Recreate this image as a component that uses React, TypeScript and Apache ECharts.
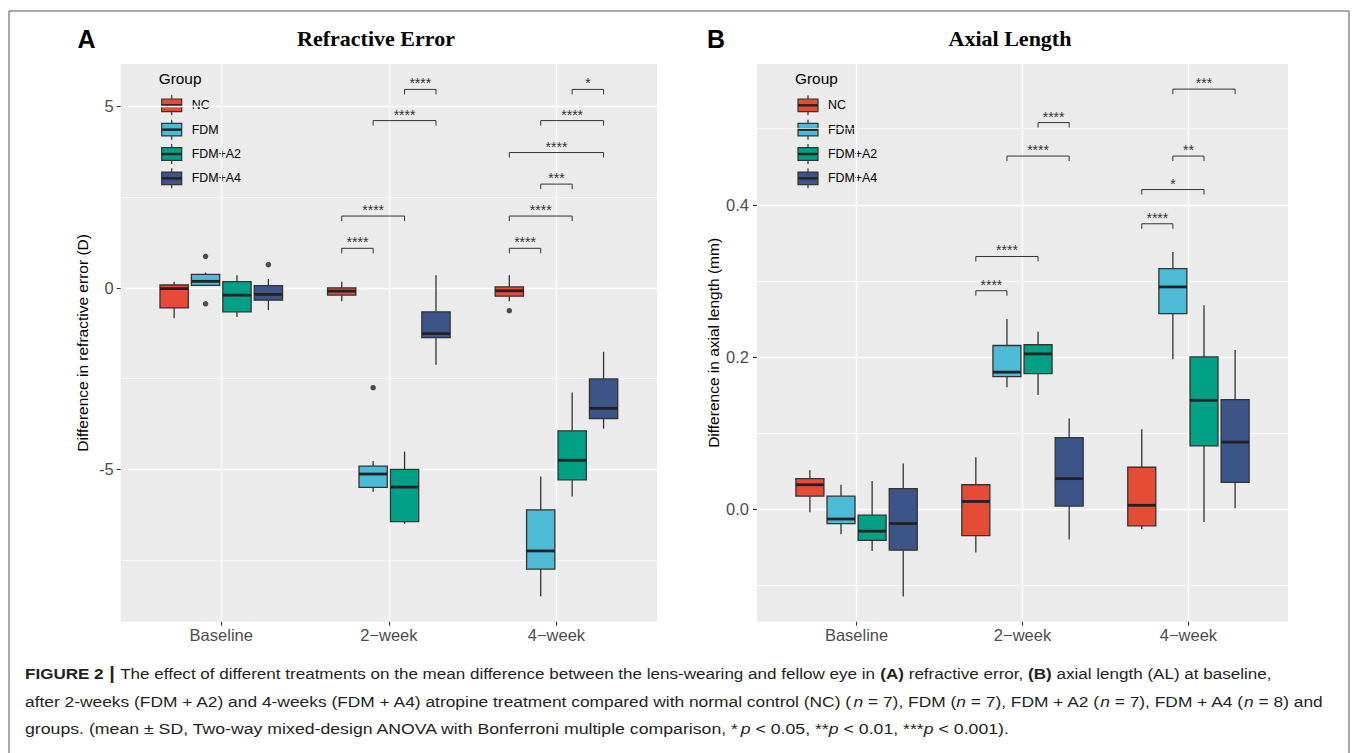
import React, { useEffect, useRef } from 'react';
import * as echarts from 'echarts';

// ---------- data ----------
const categories = ['Baseline', '2−week', '4−week'];
const groups = ['NC', 'FDM', 'FDM+A2', 'FDM+A4'];
const groupColors = ['#E64B35', '#4DBBD5', '#00A087', '#3C5488'];

// Refractive error (D): [min, Q1, median, Q3, max] per category
const refNC = [[-0.84, -0.55, -0.02, 0.08, 0.17], [-0.37, -0.2, -0.09, 0.0, 0.17], [-0.37, -0.23, -0.08, 0.03, 0.35]];
const refFDM = [[0.05, 0.07, 0.18, 0.37, 0.42], [-5.62, -5.5, -5.13, -4.91, -4.77], [-8.5, -7.75, -7.25, -6.12, -5.2]];
const refA2 = [[-0.8, -0.66, -0.2, 0.17, 0.35], [-6.5, -6.44, -5.49, -5.0, -4.51], [-5.75, -5.29, -4.75, -3.94, -2.88]];
const refA4 = [[-0.61, -0.34, -0.18, 0.06, 0.24], [-2.12, -1.37, -1.26, -0.66, 0.35], [-3.88, -3.6, -3.32, -2.51, -1.76]];
const refOutNC = [[], [], [-0.63]];
const refOutFDM = [[0.87, -0.44], [-2.75], []];
const refOutA2 = [[], [], []];
const refOutA4 = [[0.64], [], []];
// [categoryIndex, fromGroup, toGroup, y, label]
const refBrackets = [
  [1, 0, 1, 1.09, '****'], [1, 0, 2, 1.98, '****'], [1, 1, 3, 4.61, '****'], [1, 2, 3, 5.47, '****'],
  [2, 0, 1, 1.09, '****'], [2, 0, 2, 1.98, '****'], [2, 1, 2, 2.86, '***'], [2, 0, 3, 3.73, '****'],
  [2, 1, 3, 4.61, '****'], [2, 2, 3, 5.47, '*'],
];
const refYTicks = [-5, 0, 5];
const refYMinor = [-7.5, -2.5, 2.5];
const refYRange = [-9.2, 6.17];

// Axial length (mm)
const alNC = [[-0.004, 0.017, 0.032, 0.04, 0.051], [-0.057, -0.035, 0.01, 0.032, 0.068], [-0.026, -0.022, 0.005, 0.055, 0.105]];
const alFDM = [[-0.033, -0.019, -0.013, 0.017, 0.032], [0.16, 0.174, 0.18, 0.215, 0.25], [0.197, 0.257, 0.292, 0.316, 0.338]];
const alA2 = [[-0.055, -0.041, -0.029, -0.008, 0.037], [0.15, 0.178, 0.204, 0.216, 0.233], [-0.017, 0.083, 0.143, 0.2, 0.268]];
const alA4 = [[-0.115, -0.054, -0.019, 0.027, 0.06], [-0.04, 0.004, 0.04, 0.094, 0.119], [0.001, 0.035, 0.088, 0.144, 0.209]];
const alBrackets = [
  [1, 0, 1, 0.287, '****'], [1, 0, 2, 0.332, '****'], [1, 1, 3, 0.464, '****'], [1, 2, 3, 0.508, '****'],
  [2, 0, 1, 0.375, '****'], [2, 0, 2, 0.42, '*'], [2, 1, 2, 0.464, '**'], [2, 1, 3, 0.552, '***'],
];
const alYTicks = [0, 0.2, 0.4];
const alYMinor = [-0.1, 0.1, 0.3, 0.5];
const alYRange = [-0.148, 0.585];

const captionLines = [
  '{b|FIGURE 2}{bar| | }The effect of different treatments on the mean difference between the lens-wearing and fellow eye in {b|(A)} refractive error, {b|(B)} axial length (AL) at baseline,',
  'after 2-weeks (FDM + A2) and 4-weeks (FDM + A4) atropine treatment compared with normal control (NC) ({i|n} = 7), FDM ({i|n} = 7), FDM + A2 ({i|n} = 7), FDM + A4 ({i|n} = 8) and',
  'groups. (mean ± SD, Two-way mixed-design ANOVA with Bonferroni multiple comparison, *{i|p} < 0.05, **{i|p} < 0.01, ***{i|p} < 0.001).',
];

// ---------- layout ----------
const SANS = 'Liberation Sans';
const SERIF = 'Liberation Serif';
const DODGE = [-0.28125, -0.09375, 0.09375, 0.28125];
const BOX_W = 0.16875;
const GRID_A = { left: 120.7, top: 64, width: 536.3, height: 557.7 };
const GRID_B = { left: 757, top: 64, width: 531, height: 557.7 };
const CAPTION_Y = [673, 701, 729];
const CAPTION_SCALE = [1.1, 1.121, 1.142];

function boxSeries(panel: number, stats: number[][], gi: number) {
  return {
    type: 'custom',
    xAxisIndex: panel,
    yAxisIndex: panel * 2,
    z: 3,
    data: stats.map((s, ci) => [ci + 1 + DODGE[gi], ...s]),
    encode: { x: 0, y: [1, 2, 3, 4, 5] },
    renderItem: (params: any, api: any) => {
      const x = api.value(0);
      const pMin = api.coord([x, api.value(1)]);
      const pQ1 = api.coord([x, api.value(2)]);
      const pMd = api.coord([x, api.value(3)]);
      const pQ3 = api.coord([x, api.value(4)]);
      const pMax = api.coord([x, api.value(5)]);
      const hw = api.size([BOX_W, 0])[0] / 2;
      const cx = pMd[0];
      return {
        type: 'group',
        children: [
          { type: 'line', shape: { x1: cx, y1: pMax[1], x2: cx, y2: pQ3[1] }, style: { stroke: '#333333', lineWidth: 1.3 } },
          { type: 'line', shape: { x1: cx, y1: pQ1[1], x2: cx, y2: pMin[1] }, style: { stroke: '#333333', lineWidth: 1.3 } },
          {
            type: 'rect',
            shape: { x: cx - hw, y: pQ3[1], width: 2 * hw, height: pQ1[1] - pQ3[1] },
            style: { fill: groupColors[gi], stroke: '#333333', lineWidth: 1.3 },
          },
          { type: 'line', shape: { x1: cx - hw, y1: pMd[1], x2: cx + hw, y2: pMd[1] }, style: { stroke: '#222222', lineWidth: 2.8 } },
        ],
      };
    },
  };
}

function outlierSeries(panel: number, outs: number[][][]) {
  const data: number[][] = [];
  outs.forEach((perGroup, gi) => {
    perGroup.forEach((vals, ci) => {
      vals.forEach((v) => data.push([ci + 1 + DODGE[gi], v]));
    });
  });
  return {
    type: 'scatter',
    xAxisIndex: panel,
    yAxisIndex: panel * 2,
    z: 4,
    symbolSize: 5.5,
    itemStyle: { color: '#222222' },
    data,
  };
}

function bracketSeries(panel: number, brackets: any[]) {
  const labels = brackets.map((b) => b[4]);
  return {
    type: 'custom',
    xAxisIndex: panel,
    yAxisIndex: panel * 2,
    z: 5,
    data: brackets.map((b) => [b[0] + 1 + DODGE[b[1]], b[0] + 1 + DODGE[b[2]], b[3]]),
    encode: { x: [0, 1], y: 2 },
    renderItem: (params: any, api: any) => {
      const p1 = api.coord([api.value(0), api.value(2)]);
      const p2 = api.coord([api.value(1), api.value(2)]);
      const t = 5;
      const st = { stroke: '#333333', lineWidth: 1 };
      return {
        type: 'group',
        children: [
          { type: 'line', shape: { x1: p1[0], y1: p1[1], x2: p2[0], y2: p2[1] }, style: st },
          { type: 'line', shape: { x1: p1[0], y1: p1[1], x2: p1[0], y2: p1[1] + t }, style: st },
          { type: 'line', shape: { x1: p2[0], y1: p2[1], x2: p2[0], y2: p2[1] + t }, style: st },
          {
            type: 'text',
            x: (p1[0] + p2[0]) / 2,
            y: p1[1] - 6,
            style: {
              text: labels[params.dataIndex],
              fontSize: 14,
              fontFamily: SANS,
              fill: '#333333',
              align: 'center',
              verticalAlign: 'middle',
            },
          },
        ],
      };
    },
  };
}

function legendGraphics(plotLeft: number) {
  const els: any[] = [
    {
      type: 'text', x: plotLeft + 38, y: 78.5,
      style: { text: 'Group', fontSize: 15.4, fontFamily: SANS, fill: '#000', verticalAlign: 'middle' },
    },
  ];
  groups.forEach((g, i) => {
    const cy = 105.3 + i * 24.35;
    const kx = plotLeft + 41;
    els.push({ type: 'line', shape: { x1: kx + 10, y1: cy - 10, x2: kx + 10, y2: cy + 10 }, style: { stroke: '#333', lineWidth: 1.2 } });
    els.push({ type: 'rect', shape: { x: kx, y: cy - 6.3, width: 20, height: 12.6 }, style: { fill: groupColors[i], stroke: '#333', lineWidth: 1.2 } });
    els.push({ type: 'line', shape: { x1: kx, y1: cy, x2: kx + 20, y2: cy }, style: { stroke: '#222', lineWidth: 2.4 } });
    els.push({
      type: 'text', x: plotLeft + 71, y: cy,
      style: { text: g, fontSize: 12.4, fontFamily: SANS, fill: '#000', verticalAlign: 'middle' },
    });
  });
  return els;
}

function xAxis(gridIndex: number) {
  return {
    type: 'value',
    gridIndex,
    min: 0.4,
    max: 3.6,
    position: 'bottom',
    axisLine: { show: false, onZero: false },
    axisTick: { show: true, customValues: [1, 2, 3], length: 4, lineStyle: { color: '#333', width: 1 } },
    axisLabel: {
      customValues: [1, 2, 3],
      formatter: (v: number) => categories[Math.round(v) - 1] || '',
      color: '#4D4D4D',
      fontSize: 16.5,
      fontFamily: SANS,
      margin: 5,
    },
    splitLine: { show: true, lineStyle: { color: '#FFFFFF', width: 1.3 } },
  };
}

function yAxes(gridIndex: number, range: number[], ticks: number[], minor: number[], fmt: (v: number) => string, margin: number) {
  return [
    {
      type: 'value',
      gridIndex,
      position: 'left',
      min: range[0],
      max: range[1],
      axisLine: { show: false, onZero: false },
      axisTick: { show: true, customValues: ticks, length: 4, lineStyle: { color: '#333', width: 1 } },
      axisLabel: { customValues: ticks, formatter: fmt, color: '#4D4D4D', fontSize: 16.5, fontFamily: SANS, margin },
      splitLine: { show: true, lineStyle: { color: '#FFFFFF', width: 1.3 } },
    },
    {
      type: 'value',
      gridIndex,
      position: 'left',
      min: range[0],
      max: range[1],
      axisLine: { show: false, onZero: false },
      axisTick: { show: false, customValues: minor },
      axisLabel: { show: false, customValues: minor },
      splitLine: { show: true, lineStyle: { color: '#FFFFFF', width: 0.7 } },
    },
  ];
}

export default function App() {
  const ref = useRef<HTMLDivElement>(null);
  useEffect(() => {
    if (!ref.current) return;
    const chart = echarts.init(ref.current, undefined, { renderer: 'svg' });
    const capRich = {
      b: { fontWeight: 'bold', fontSize: 15.5, fontFamily: SANS, fill: '#231F20' },
      bar: { fontWeight: 'bold', fontSize: 18, fontFamily: SANS, fill: '#231F20' },
      i: { fontStyle: 'italic', fontSize: 15.5, fontFamily: SANS, fill: '#231F20' },
    };
    const option: any = {
      animation: false,
      backgroundColor: '#FFFFFF',
      grid: [
        { ...GRID_A, show: true, backgroundColor: '#EBEBEB', borderWidth: 0, containLabel: false },
        { ...GRID_B, show: true, backgroundColor: '#EBEBEB', borderWidth: 0, containLabel: false },
      ],
      xAxis: [xAxis(0), xAxis(1)],
      yAxis: [
        ...yAxes(0, refYRange, refYTicks, refYMinor, (v: number) => (v < 0 ? '-' + Math.abs(v) : String(v)), 7),
        ...yAxes(1, alYRange, alYTicks, alYMinor, (v: number) => v.toFixed(1), 8),
      ],
      series: [
        boxSeries(0, refNC, 0), boxSeries(0, refFDM, 1), boxSeries(0, refA2, 2), boxSeries(0, refA4, 3),
        outlierSeries(0, [refOutNC, refOutFDM, refOutA2, refOutA4]),
        bracketSeries(0, refBrackets),
        boxSeries(1, alNC, 0), boxSeries(1, alFDM, 1), boxSeries(1, alA2, 2), boxSeries(1, alA4, 3),
        bracketSeries(1, alBrackets),
      ],
      graphic: [
        // frame
        { type: 'line', shape: { x1: 9, y1: 11, x2: 1349, y2: 11 }, style: { stroke: '#555', lineWidth: 1 } },
        { type: 'line', shape: { x1: 9, y1: 11, x2: 9, y2: 753 }, style: { stroke: '#555', lineWidth: 1 } },
        { type: 'line', shape: { x1: 1349, y1: 11, x2: 1349, y2: 753 }, style: { stroke: '#555', lineWidth: 1 } },
        // panel letters & titles
        { type: 'text', x: 86.5, y: 39, style: { text: 'A', fontSize: 25, fontWeight: 'bold', fontFamily: SANS, fill: '#000', align: 'center', verticalAlign: 'middle' } },
        { type: 'text', x: 716, y: 39, style: { text: 'B', fontSize: 25, fontWeight: 'bold', fontFamily: SANS, fill: '#000', align: 'center', verticalAlign: 'middle' } },
        { type: 'text', x: 376, y: 38, style: { text: 'Refractive Error', fontSize: 22, fontWeight: 'bold', fontFamily: SERIF, fill: '#000', align: 'center', verticalAlign: 'middle' } },
        { type: 'text', x: 1010, y: 38, style: { text: 'Axial Length', fontSize: 22, fontWeight: 'bold', fontFamily: SERIF, fill: '#000', align: 'center', verticalAlign: 'middle' } },
        // axis titles
        { type: 'text', x: 82, y: 342.9, rotation: Math.PI / 2, style: { text: 'Difference in refractive error (D)', fontSize: 15.5, fontFamily: SANS, fill: '#000', align: 'center', verticalAlign: 'middle' } },
        { type: 'text', x: 713, y: 342.9, rotation: Math.PI / 2, style: { text: 'Difference in axial length (mm)', fontSize: 15.5, fontFamily: SANS, fill: '#000', align: 'center', verticalAlign: 'middle' } },
        // legends
        ...legendGraphics(GRID_A.left),
        ...legendGraphics(GRID_B.left),
        // caption
        ...captionLines.map((t, i) => ({
          type: 'text', x: 25, y: CAPTION_Y[i], scaleX: CAPTION_SCALE[i],
          style: { text: t, rich: capRich, fontSize: 15.5, fontFamily: SANS, fill: '#231F20', verticalAlign: 'middle' },
        })),
      ],
    };
    chart.setOption(option);
    return () => chart.dispose();
  }, []);
  return <div ref={ref} style={{ position: 'fixed', left: 0, top: 0, width: 1357, height: 753, background: '#fff' }} />;
}
